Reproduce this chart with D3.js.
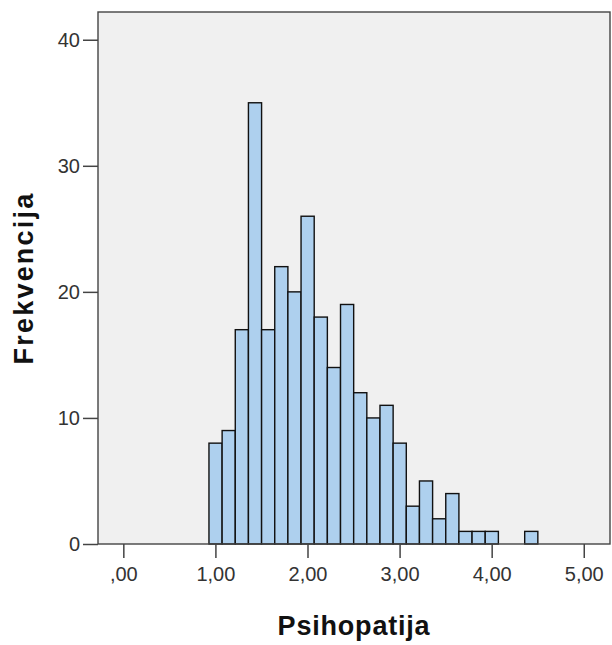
<!DOCTYPE html>
<html><head><meta charset="utf-8">
<script src="https://cdn.jsdelivr.net/npm/d3@7"></script>
<style>body{margin:0;background:#fff}svg{display:block}</style>
</head><body>
<svg id="c" width="612" height="645"></svg>
<script>
const binStart = 0.93;
const binWidth = 1/7;
const counts = [8,9,17,35,17,22,20,26,18,14,19,12,10,11,8,3,5,2,4,1,1,1,0,0,1];
const xTicks = [0,1,2,3,4,5];
const xTickLabels = [",00","1,00","2,00","3,00","4,00","5,00"];
const yTicks = [0,10,20,30,40];
const xTitle = "Psihopatija";
const yTitle = "Frekvencija";

const svg = d3.select("#c");
const L=98, R=610, T=12, B=544;
const x = d3.scaleLinear().domain([-0.275,5.285]).range([L,R]);
const y = d3.scaleLinear().domain([0,42.2]).range([B,T]);
const font = "Liberation Sans, Arial, sans-serif";

svg.append("rect").attr("x",L).attr("y",T).attr("width",R-L).attr("height",B-T)
  .attr("fill","#f0f0f0");

const bins = counts.map((c,i)=>({x0:binStart+i*binWidth,x1:binStart+(i+1)*binWidth,c}));
svg.append("g").selectAll("rect").data(bins.filter(d=>d.c>0)).join("rect")
  .attr("x",d=>x(d.x0)).attr("width",d=>x(d.x1)-x(d.x0))
  .attr("y",d=>y(d.c)).attr("height",d=>y(0)-y(d.c))
  .attr("fill","#aed0ee").attr("stroke","#111").attr("stroke-width",1.4);

svg.append("rect").attr("x",L).attr("y",T).attr("width",R-L).attr("height",B-T)
  .attr("fill","none").attr("stroke","#444").attr("stroke-width",1.4);

const ax = svg.append("g").attr("transform",`translate(0,${B})`)
  .call(d3.axisBottom(x).tickValues(xTicks).tickFormat((d,i)=>xTickLabels[i]).tickSize(14).tickPadding(9));
ax.select(".domain").remove();
ax.selectAll("line").attr("stroke","#444").attr("stroke-width",1.5);
ax.selectAll("text").attr("font-family",font).attr("font-size",20).attr("fill","#333");

const ay = svg.append("g").attr("transform",`translate(${L},0)`)
  .call(d3.axisLeft(y).tickValues(yTicks).tickSize(15).tickPadding(3));
ay.select(".domain").remove();
ay.selectAll("line").attr("stroke","#444").attr("stroke-width",1.5);
ay.selectAll("text").attr("font-family",font).attr("font-size",20).attr("fill","#333");

svg.append("text").attr("x",354).attr("y",635).attr("text-anchor","middle")
  .attr("font-family",font).attr("font-weight","bold").attr("letter-spacing",0.8)
  .attr("font-size",27).attr("fill","#111").text(xTitle);
svg.append("text").attr("transform","translate(33,278) rotate(-90)").attr("text-anchor","middle")
  .attr("font-family",font).attr("font-weight","bold").attr("letter-spacing",2.2)
  .attr("font-size",27).attr("fill","#111").text(yTitle);
</script>
</body></html>
